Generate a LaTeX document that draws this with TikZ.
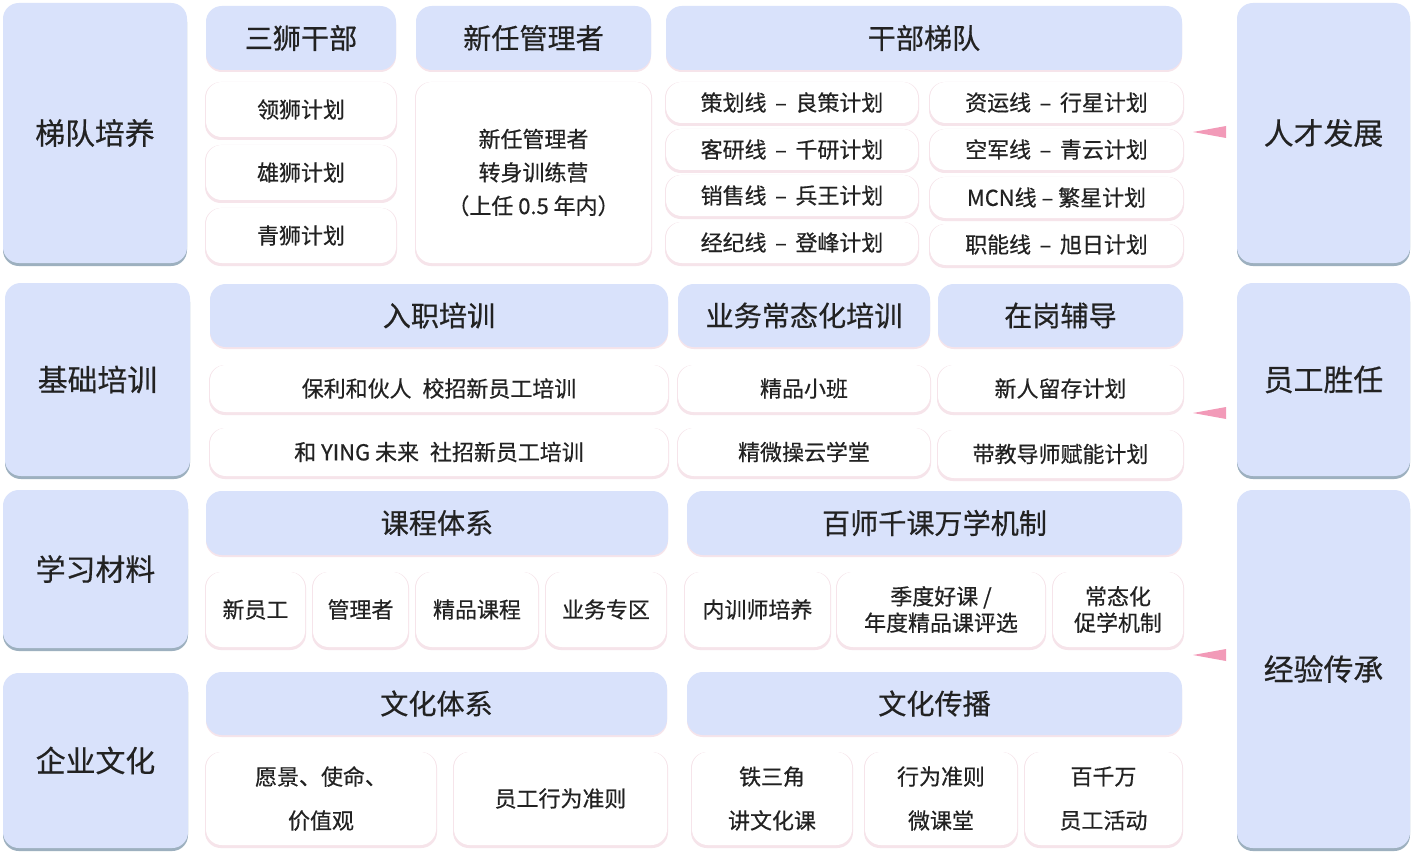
\documentclass[tikz,border=0pt]{standalone}
\usepackage{fontspec}
\setmainfont[FakeBold=0.5,AutoFakeBold=0.5]{Noto Sans CJK SC}
\definecolor{bl}{HTML}{D9E2FB}
\definecolor{bsh}{HTML}{9DB0BF}
\definecolor{wsh}{HTML}{F6E4EA}
\definecolor{pk}{HTML}{F29AB8}
\definecolor{tx}{HTML}{222222}
\tikzset{
 blue/.style={fill=bl,rounded corners=9pt,draw=none},
 bsh/.style={fill=bsh,rounded corners=9pt,draw=none},
 white/.style={fill=white,rounded corners=9pt,draw=none},
 wsh/.style={fill=wsh,rounded corners=9pt,draw=none},
 lbl/.style={text=tx,align=center,inner sep=0pt},
 big/.style={lbl,font=\fontsize{17}{20}\selectfont},
 hd/.style={lbl,font=\fontsize{16}{19}\selectfont},
 sm/.style={lbl,font=\fontsize{12.5}{19}\selectfont},
}
\newcommand{\BB}[6]{%
 \fill[bsh] (#2,#3+3) rectangle (#4,#5+3);
 \fill[blue] (#2,#3) rectangle (#4,#5);
 \node[big] (#1) at ({(#2+#4)/2},{(#3+#5)/2}) {#6};}
\newcommand{\HB}[6]{%
 \fill[wsh] (#2,#3+2) rectangle (#4,#5+2);
 \fill[blue] (#2,#3) rectangle (#4,#5);
 \node[hd] (#1) at ({(#2+#4)/2},{(#3+#5)/2}) {#6};}
\newcommand{\WB}[6]{%
 \fill[wsh] (#2-1,#3) rectangle (#4+1,#5+3);
 \fill[white] (#2,#3) rectangle (#4,#5);
 \node[sm] (#1) at ({(#2+#4)/2},{(#3+#5)/2}) {#6};}
\begin{document}
\begin{tikzpicture}[x=0.02cm,y=-0.02cm]
\useasboundingbox (0,0) rectangle (1412,858);
\fill[white] (0,0) rectangle (1412,858);
\BB{a1}{3}{3}{187}{263}{梯队培养}
\BB{a2}{5}{283}{190}{476}{基础培训}
\BB{a3}{3}{490}{188}{648}{学习材料}
\BB{a4}{3}{673}{188}{848}{企业文化}
\BB{r1}{1237}{3}{1410}{263}{人才发展}
\BB{r2}{1237}{283}{1410}{476}{员工胜任}
\BB{r3}{1237}{490}{1410}{848}{经验传承}
\HB{h1}{206}{6}{396}{70}{三狮干部}
\HB{h2}{416}{6}{651}{70}{新任管理者}
\HB{h3}{666}{6}{1182}{70}{干部梯队}
\WB{w1}{206}{82}{396}{137}{领狮计划}
\WB{w2}{206}{145}{396}{200}{雄狮计划}
\WB{w3}{206}{208}{396}{263}{青狮计划}
\WB{w4}{416}{82}{651}{263}{新任管理者\\转身训练营\\（上任 0.5 年内）}
\WB{c1}{666}{82}{918}{123}{策划线 \,–\, 良策计划}
\WB{c2}{666}{129}{918}{170}{客研线 \,–\, 千研计划}
\WB{c3}{666}{175}{918}{216}{销售线 \,–\, 兵王计划}
\WB{c4}{666}{222}{918}{263}{经纪线 \,–\, 登峰计划}
\WB{d1}{930}{82}{1183}{123}{资运线 \,–\, 行星计划}
\WB{d2}{930}{129}{1183}{170}{空军线 \,–\, 青云计划}
\WB{d3}{930}{177}{1183}{218}{MCN线 – 繁星计划}
\WB{d4}{930}{224}{1183}{265}{职能线 \,–\, 旭日计划}
\HB{h4}{210}{284}{668}{347}{入职培训}
\HB{h5}{678}{284}{930}{347}{业务常态化培训}
\HB{h6}{938}{284}{1183}{347}{在岗辅导}
\WB{e1}{210}{365}{668}{412}{保利和伙人\enspace 校招新员工培训}
\WB{e2}{210}{428}{668}{476}{和 YING 未来\enspace 社招新员工培训}
\WB{e3}{678}{365}{930}{412}{精品小班}
\WB{e4}{678}{428}{930}{476}{精微操云学堂}
\WB{e5}{938}{365}{1183}{412}{新人留存计划}
\WB{e6}{938}{430}{1183}{478}{带教导师赋能计划}
\HB{h7}{206}{491}{668}{555}{课程体系}
\HB{h8}{687}{491}{1182}{555}{百师千课万学机制}
\WB{f1}{206}{572}{305}{647}{新员工}
\WB{f2}{313}{572}{408}{647}{管理者}
\WB{f3}{416}{572}{538}{647}{精品课程}
\WB{f4}{546}{572}{666}{647}{业务专区}
\WB{f5}{685}{572}{830}{647}{内训师培养}
\WB{f6}{837}{572}{1045}{647}{季度好课 /\\[-4pt]年度精品课评选}
\WB{f7}{1053}{572}{1183}{647}{常态化\\[-4pt]促学机制}
\HB{h9}{206}{672}{667}{735}{文化体系}
\HB{h10}{687}{672}{1182}{735}{文化传播}
\WB{g1}{206}{752}{436}{845}{愿景、使命、\\[6pt]价值观}
\WB{g2}{454}{752}{667}{845}{员工行为准则}
\WB{g3}{692}{752}{852}{845}{铁三角\\[6pt]讲文化课}
\WB{g4}{865}{752}{1017}{845}{行为准则\\[6pt]微课堂}
\WB{g5}{1025}{752}{1182}{845}{百千万\\[6pt]员工活动}
\foreach \yy in {132,413,655}{
 \fill[pk] (1193,\yy) -- (1226,\yy-6) -- (1226,\yy+6) -- cycle;}
\end{tikzpicture}
\end{document}
